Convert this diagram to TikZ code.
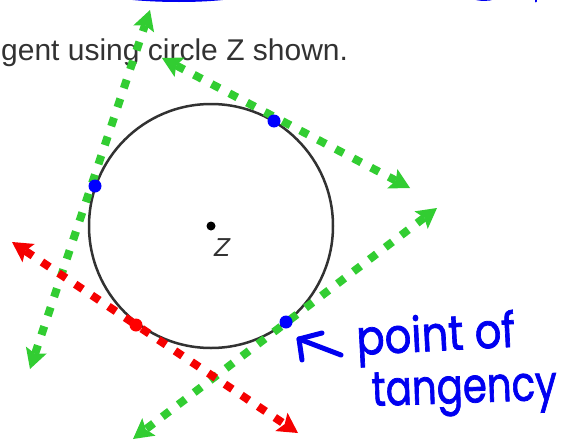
\documentclass[tikz,border=0pt]{standalone}
\usepackage{fontspec}
\setmainfont{Liberation Sans}
\newfontfamily\handfont[FakeBold=1.6]{Poppins}
\usetikzlibrary{arrows.meta}
\definecolor{tgreen}{RGB}{50,205,50}
\definecolor{tred}{RGB}{245,0,0}
\definecolor{tblue}{RGB}{0,0,240}
\definecolor{tgray}{RGB}{50,50,50}
\tikzset{
  bigtip/.tip={Stealth[length=20pt,width=22pt,inset=4pt,line width=0pt]},
  tline/.style={line width=8pt, dash pattern=on 9pt off 11pt, bigtip-bigtip},
  gline/.style={tline, tgreen},
  rline/.style={tline, tred},
  tdot/.style={circle, inner sep=0pt, minimum size=13pt, fill=#1},
  hand/.style={tblue, font=\handfont\fontsize{44}{44}\selectfont, inner sep=0pt, anchor=base west},
  scribble/.style={tblue, line width=4pt, line cap=round}
}
\begin{document}
\begin{tikzpicture}[x=1pt,y=-1pt]
\useasboundingbox (0,0) rectangle (563,442);
% top scribble remnants
\draw[scribble, line width=5pt] (112,-5) .. controls (150,1) and (210,1) .. (240,-5);
\draw[scribble, line width=2pt] (472,-2) .. controls (480,0.5) and (488,0.5) .. (494,-1.5);
\draw[scribble, line width=2pt] (536,-3) -- (536,1.5);
% caption text
\node[tgray, font=\fontsize{30}{30}\selectfont, inner sep=0pt, anchor=base west] (cap) at (1,60) {gent using circle Z shown.};
% circle
\node[circle, draw=tgray, line width=2.5pt, minimum size=244pt, inner sep=0pt] (Zc) at (211,226) {};
\node[circle, fill=black, inner sep=0pt, minimum size=9pt] (ctr) at (211,226) {};
\node[tgray, font=\itshape\fontsize{26}{26}\selectfont, inner sep=0pt, anchor=base west] (zl) at (214,256) {Z};
% endpoints
\coordinate (a1) at (150,10);
\coordinate (a2) at (30,369);
\coordinate (b1) at (162,58);
\coordinate (b2) at (410,188);
\coordinate (c1) at (437,208);
\coordinate (c2) at (133,439);
\coordinate (r1) at (12,242);
\coordinate (r2) at (298,433);
% green tangents
\draw[gline] (a2) -- (a1);
\draw[gline] (b1) -- (b2);
\draw[gline] (c1) -- (c2);
% red tangent
\draw[rline] (r1) -- (r2);
% points of tangency
\node[tdot=blue] (pa) at (95,186) {};
\node[tdot=blue] (pb) at (274,121) {};
\node[tdot=blue] (pc) at (286,322) {};
\node[tdot=red] (pr) at (136,325) {};
% hand-drawn arrow
\coordinate (h0) at (299,339);
\coordinate (h1) at (341,355);
\coordinate (h2) at (322,333);
\coordinate (h3) at (302,360);
\draw[scribble, line width=5pt, line join=round] (h2) -- (h0) -- (h3);
\draw[scribble, line width=5pt] (h0) -- (h1);
% handwriting
\node[hand, rotate=3] (t1) at (357,355) {\scalebox{0.95}[1.1]{point of}};
\node[hand, rotate=2] (t2) at (372,406) {\scalebox{0.88}[1.1]{tangency}};
\end{tikzpicture}
\end{document}
